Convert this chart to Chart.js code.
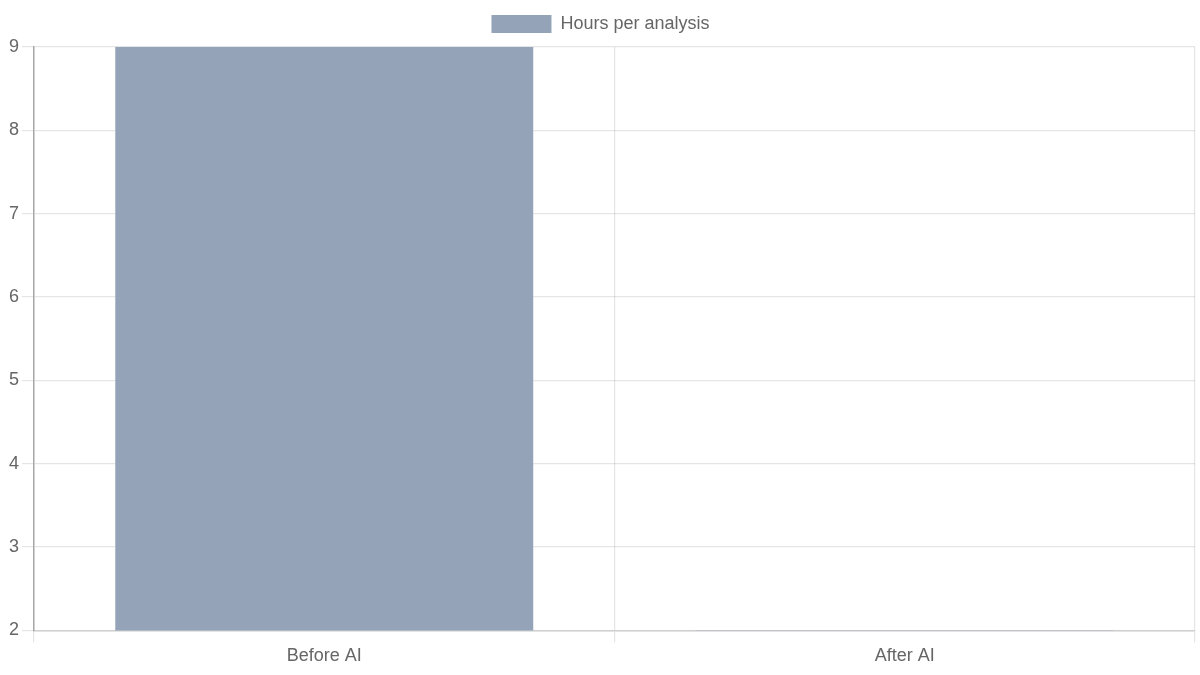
<!DOCTYPE html>
<html>
<head>
<meta charset="utf-8">
<script src="https://cdn.jsdelivr.net/npm/chart.js@4"></script>
<style>
  html, body { margin: 0; padding: 0; background: #fff; }
  #wrap { width: 1200px; height: 675px; }
</style>
</head>
<body>
<div id="wrap"><canvas id="hoursChart"></canvas></div>
<script>
var categories = ["Before AI", "After AI"];
var hoursPerAnalysis = [9, 2];

Chart.defaults.font.family = "'Liberation Sans', Arial, sans-serif";
Chart.defaults.font.size = 18;
Chart.defaults.color = "#666";

// a little more room under the legend
var legendGap = {
    id: "legendGap",
    beforeLayout: function (chart) {
        var legend = chart.legend;
        if (legend && !legend._gapPatched) {
            var origFit = legend.fit;
            legend.fit = function () {
                origFit.call(this);
                this.height += 4;
            };
            legend._gapPatched = true;
        }
    }
};

var ctx = document.getElementById("hoursChart").getContext("2d");
var chart = new Chart(ctx, {
    type: "bar",
    data: {
        labels: categories,
        datasets: [
            {
                label: "Hours per analysis",
                data: hoursPerAnalysis,
                backgroundColor: "#94a3b8",
                barPercentage: 0.9,
                categoryPercentage: 0.8
            }
        ]
    },
    plugins: [legendGap],
    options: {
        responsive: true,
        maintainAspectRatio: false,
        animation: false,
        layout: {
            padding: { top: 0, left: 6, right: 5, bottom: 5 }
        },
        plugins: {
            legend: {
                position: "top",
                labels: { boxWidth: 60, boxHeight: 18, padding: 15 }
            },
            tooltip: { enabled: false }
        },
        scales: {
            x: {
                grid: { tickLength: 12, color: "rgba(0,0,0,0.1)", lineWidth: 1.2 },
                border: { color: "#cfcfcf", width: 1.5 }
            },
            y: {
                beginAtZero: false,
                ticks: { stepSize: 1 },
                grid: { tickLength: 12, color: "rgba(0,0,0,0.1)", lineWidth: 1.2 },
                border: { color: "#a8a8a8", width: 1.5 }
            }
        }
    }
});
</script>
</body>
</html>
